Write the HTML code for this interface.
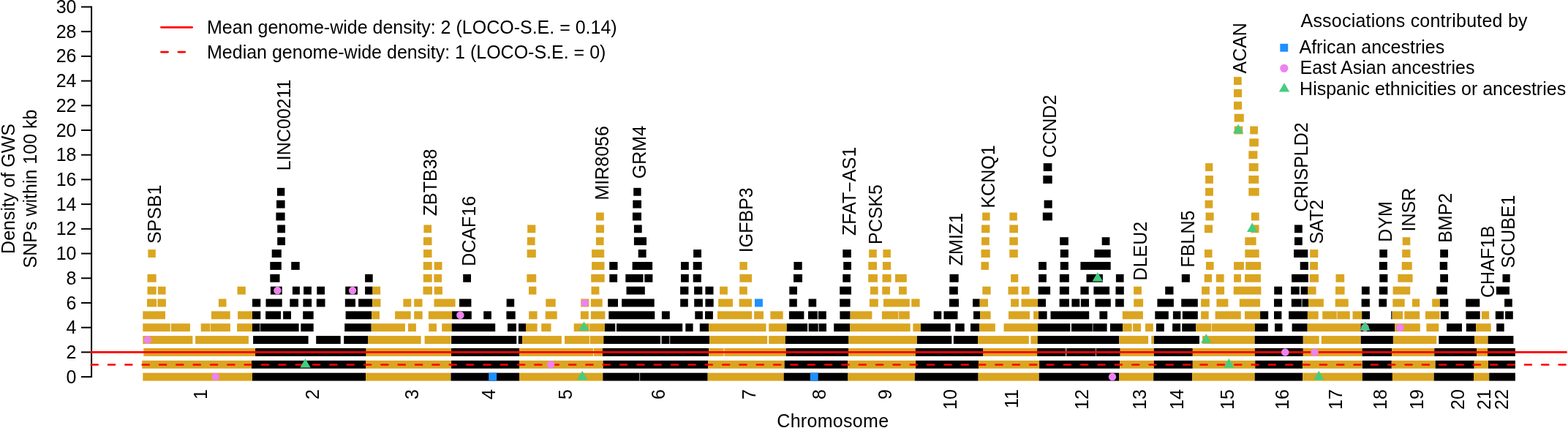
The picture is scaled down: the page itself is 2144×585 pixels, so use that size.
<!DOCTYPE html><html><head><meta charset="utf-8"><style>html,body{margin:0;padding:0;background:#fff;}svg{display:block;}text{font-family:"Liberation Sans", Arial, Helvetica, sans-serif;fill:#000;}</style></head><body>
<svg width="2144" height="585" viewBox="0 0 2144 585">
<rect width="2144" height="585" fill="#fff"/>
<rect x="195.3" y="509.65" width="149.7" height="10.90" fill="#DAA520"/>
<rect x="345.0" y="509.65" width="155.0" height="10.90" fill="#000000"/>
<rect x="500.1" y="509.65" width="116.4" height="10.90" fill="#DAA520"/>
<rect x="616.5" y="509.65" width="93.5" height="10.90" fill="#000000"/>
<rect x="710.0" y="509.65" width="114.3" height="10.90" fill="#DAA520"/>
<rect x="824.3" y="509.65" width="143.4" height="10.90" fill="#000000"/>
<rect x="967.7" y="509.65" width="104.0" height="10.90" fill="#DAA520"/>
<rect x="1071.7" y="509.65" width="87.8" height="10.90" fill="#000000"/>
<rect x="1159.5" y="509.65" width="91.3" height="10.90" fill="#DAA520"/>
<rect x="1250.8" y="509.65" width="86.8" height="10.90" fill="#000000"/>
<rect x="1337.6" y="509.65" width="83.1" height="10.90" fill="#DAA520"/>
<rect x="1420.7" y="509.65" width="109.3" height="10.90" fill="#000000"/>
<rect x="1530.0" y="509.65" width="47.2" height="10.90" fill="#DAA520"/>
<rect x="1577.2" y="509.65" width="53.0" height="10.90" fill="#000000"/>
<rect x="1630.2" y="509.65" width="85.5" height="10.90" fill="#DAA520"/>
<rect x="1715.7" y="509.65" width="65.5" height="10.90" fill="#000000"/>
<rect x="1781.2" y="509.65" width="81.6" height="10.90" fill="#DAA520"/>
<rect x="1862.8" y="509.65" width="41.1" height="10.90" fill="#000000"/>
<rect x="1903.9" y="509.65" width="56.8" height="10.90" fill="#DAA520"/>
<rect x="1960.7" y="509.65" width="54.3" height="10.90" fill="#000000"/>
<rect x="2015.0" y="509.65" width="21.2" height="10.90" fill="#DAA520"/>
<rect x="2036.2" y="509.65" width="35.7" height="10.90" fill="#000000"/>
<rect x="194.2" y="492.80" width="149.8" height="10.90" fill="#DAA520"/>
<rect x="344.0" y="492.80" width="156.6" height="10.90" fill="#000000"/>
<rect x="500.1" y="492.80" width="117.0" height="10.90" fill="#DAA520"/>
<rect x="617.1" y="492.80" width="92.9" height="10.90" fill="#000000"/>
<rect x="710.0" y="492.80" width="114.7" height="10.90" fill="#DAA520"/>
<rect x="824.7" y="492.80" width="143.4" height="10.90" fill="#000000"/>
<rect x="968.1" y="492.80" width="104.6" height="10.90" fill="#DAA520"/>
<rect x="1072.7" y="492.80" width="86.4" height="10.90" fill="#000000"/>
<rect x="1159.1" y="492.80" width="93.0" height="10.90" fill="#DAA520"/>
<rect x="1252.1" y="492.80" width="85.9" height="10.90" fill="#000000"/>
<rect x="1338.0" y="492.80" width="83.1" height="10.90" fill="#DAA520"/>
<rect x="1421.1" y="492.80" width="110.0" height="10.90" fill="#000000"/>
<rect x="1531.1" y="492.80" width="46.8" height="10.90" fill="#DAA520"/>
<rect x="1577.9" y="492.80" width="52.9" height="10.90" fill="#000000"/>
<rect x="1630.8" y="492.80" width="85.5" height="10.90" fill="#DAA520"/>
<rect x="1716.3" y="492.80" width="64.9" height="10.90" fill="#000000"/>
<rect x="1781.2" y="492.80" width="81.6" height="10.90" fill="#DAA520"/>
<rect x="1862.8" y="492.80" width="40.0" height="10.90" fill="#000000"/>
<rect x="1902.8" y="492.80" width="59.9" height="10.90" fill="#DAA520"/>
<rect x="1962.7" y="492.80" width="53.0" height="10.90" fill="#000000"/>
<rect x="2015.7" y="492.80" width="19.3" height="10.90" fill="#DAA520"/>
<rect x="2035.0" y="492.80" width="36.9" height="10.90" fill="#000000"/>
<rect x="196.3" y="475.94" width="152.8" height="10.90" fill="#DAA520"/>
<rect x="349.1" y="475.94" width="151.5" height="10.90" fill="#000000"/>
<rect x="500.7" y="475.94" width="116.4" height="10.90" fill="#DAA520"/>
<rect x="617.1" y="475.94" width="92.9" height="10.90" fill="#000000"/>
<rect x="710.0" y="475.94" width="113.9" height="10.90" fill="#DAA520"/>
<rect x="823.9" y="475.94" width="145.2" height="10.90" fill="#000000"/>
<rect x="969.1" y="475.94" width="105.7" height="10.90" fill="#DAA520"/>
<rect x="1074.8" y="475.94" width="85.3" height="10.90" fill="#000000"/>
<rect x="1160.1" y="475.94" width="91.7" height="10.90" fill="#DAA520"/>
<rect x="1251.8" y="475.94" width="92.6" height="10.90" fill="#000000"/>
<rect x="1344.4" y="475.94" width="73.8" height="10.90" fill="#DAA520"/>
<rect x="1418.2" y="475.94" width="113.5" height="10.90" fill="#000000"/>
<rect x="1531.7" y="475.94" width="46.2" height="10.90" fill="#DAA520"/>
<rect x="1577.9" y="475.94" width="52.9" height="10.90" fill="#000000"/>
<rect x="1630.8" y="475.94" width="85.1" height="10.90" fill="#DAA520"/>
<rect x="1715.9" y="475.94" width="65.9" height="10.90" fill="#000000"/>
<rect x="1781.8" y="475.94" width="80.8" height="10.90" fill="#DAA520"/>
<rect x="1862.6" y="475.94" width="40.6" height="10.90" fill="#000000"/>
<rect x="1903.2" y="475.94" width="58.1" height="10.90" fill="#DAA520"/>
<rect x="1961.3" y="475.94" width="57.9" height="10.90" fill="#000000"/>
<rect x="2019.2" y="475.94" width="14.9" height="10.90" fill="#DAA520"/>
<rect x="2034.1" y="475.94" width="37.8" height="10.90" fill="#000000"/>
<rect x="195.3" y="459.09" width="68.1" height="10.90" fill="#DAA520"/>
<rect x="267.1" y="459.09" width="72.8" height="10.90" fill="#DAA520"/>
<rect x="346.1" y="459.09" width="75.5" height="10.90" fill="#000000"/>
<rect x="432.2" y="459.09" width="33.5" height="10.90" fill="#000000"/>
<rect x="470.2" y="459.09" width="33.2" height="10.90" fill="#000000"/>
<rect x="503.4" y="459.09" width="72.2" height="10.90" fill="#DAA520"/>
<rect x="580.6" y="459.09" width="35.9" height="10.90" fill="#DAA520"/>
<rect x="617.1" y="459.09" width="89.2" height="10.90" fill="#000000"/>
<rect x="708.8" y="459.09" width="5.3" height="10.90" fill="#000000"/>
<rect x="714.1" y="459.09" width="53.8" height="10.90" fill="#DAA520"/>
<rect x="772.0" y="459.09" width="53.3" height="10.90" fill="#DAA520"/>
<rect x="825.3" y="459.09" width="77.8" height="10.90" fill="#000000"/>
<rect x="904.5" y="459.09" width="65.7" height="10.90" fill="#000000"/>
<rect x="970.2" y="459.09" width="79.0" height="10.90" fill="#DAA520"/>
<rect x="1051.2" y="459.09" width="22.6" height="10.90" fill="#DAA520"/>
<rect x="1073.8" y="459.09" width="86.7" height="10.90" fill="#000000"/>
<rect x="1160.5" y="459.09" width="93.4" height="10.90" fill="#DAA520"/>
<rect x="1253.9" y="459.09" width="47.4" height="10.90" fill="#000000"/>
<rect x="1303.8" y="459.09" width="33.2" height="10.90" fill="#000000"/>
<rect x="1337.0" y="459.09" width="69.8" height="10.90" fill="#DAA520"/>
<rect x="1409.4" y="459.09" width="9.3" height="10.90" fill="#DAA520"/>
<rect x="1418.7" y="459.09" width="111.6" height="10.90" fill="#000000"/>
<rect x="1530.3" y="459.09" width="39.8" height="10.90" fill="#DAA520"/>
<rect x="1574.2" y="459.09" width="3.7" height="10.90" fill="#DAA520"/>
<rect x="1577.9" y="459.09" width="62.1" height="10.90" fill="#000000"/>
<rect x="1644.1" y="459.09" width="71.6" height="10.90" fill="#DAA520"/>
<rect x="1715.7" y="459.09" width="66.1" height="10.90" fill="#000000"/>
<rect x="1781.8" y="459.09" width="21.9" height="10.90" fill="#DAA520"/>
<rect x="1806.8" y="459.09" width="54.0" height="10.90" fill="#DAA520"/>
<rect x="1860.8" y="459.09" width="44.1" height="10.90" fill="#000000"/>
<rect x="1904.9" y="459.09" width="59.3" height="10.90" fill="#DAA520"/>
<rect x="1967.3" y="459.09" width="48.8" height="10.90" fill="#000000"/>
<rect x="2016.1" y="459.09" width="18.5" height="10.90" fill="#DAA520"/>
<rect x="2034.6" y="459.09" width="34.8" height="10.90" fill="#000000"/>
<rect x="195.3" y="442.23" width="64.6" height="10.90" fill="#DAA520"/>
<rect x="274.7" y="442.23" width="40.2" height="10.90" fill="#DAA520"/>
<rect x="324.1" y="442.23" width="20.9" height="10.90" fill="#DAA520"/>
<rect x="345.0" y="442.23" width="63.6" height="10.90" fill="#000000"/>
<rect x="411.3" y="442.23" width="17.4" height="10.90" fill="#000000"/>
<rect x="471.2" y="442.23" width="36.5" height="10.90" fill="#000000"/>
<rect x="507.7" y="442.23" width="46.2" height="10.90" fill="#DAA520"/>
<rect x="558.0" y="442.23" width="10.9" height="10.90" fill="#DAA520"/>
<rect x="586.3" y="442.23" width="10.7" height="10.90" fill="#DAA520"/>
<rect x="604.2" y="442.23" width="13.5" height="10.90" fill="#DAA520"/>
<rect x="617.7" y="442.23" width="59.5" height="10.90" fill="#000000"/>
<rect x="694.0" y="442.23" width="11.9" height="10.90" fill="#000000"/>
<rect x="709.0" y="442.23" width="10.0" height="10.90" fill="#000000"/>
<rect x="719.0" y="442.23" width="15.6" height="10.90" fill="#DAA520"/>
<rect x="740.2" y="442.23" width="13.3" height="10.90" fill="#DAA520"/>
<rect x="784.7" y="442.23" width="42.3" height="10.90" fill="#DAA520"/>
<rect x="827.0" y="442.23" width="14.3" height="10.90" fill="#000000"/>
<rect x="843.0" y="442.23" width="90.2" height="10.90" fill="#000000"/>
<rect x="937.3" y="442.23" width="10.3" height="10.90" fill="#000000"/>
<rect x="956.8" y="442.23" width="12.3" height="10.90" fill="#000000"/>
<rect x="969.1" y="442.23" width="78.4" height="10.90" fill="#DAA520"/>
<rect x="1051.2" y="442.23" width="24.6" height="10.90" fill="#DAA520"/>
<rect x="1075.8" y="442.23" width="28.3" height="10.90" fill="#000000"/>
<rect x="1105.6" y="442.23" width="24.4" height="10.90" fill="#000000"/>
<rect x="1140.2" y="442.23" width="22.0" height="10.90" fill="#000000"/>
<rect x="1162.2" y="442.23" width="82.5" height="10.90" fill="#DAA520"/>
<rect x="1248.4" y="442.23" width="10.6" height="10.90" fill="#DAA520"/>
<rect x="1259.0" y="442.23" width="40.7" height="10.90" fill="#000000"/>
<rect x="1306.2" y="442.23" width="12.5" height="10.90" fill="#000000"/>
<rect x="1327.0" y="442.23" width="12.0" height="10.90" fill="#000000"/>
<rect x="1339.0" y="442.23" width="21.8" height="10.90" fill="#DAA520"/>
<rect x="1372.5" y="442.23" width="46.6" height="10.90" fill="#DAA520"/>
<rect x="1419.1" y="442.23" width="44.3" height="10.90" fill="#000000"/>
<rect x="1465.0" y="442.23" width="48.6" height="10.90" fill="#000000"/>
<rect x="1517.9" y="442.23" width="17.3" height="10.90" fill="#000000"/>
<rect x="1535.2" y="442.23" width="12.5" height="10.90" fill="#DAA520"/>
<rect x="1549.1" y="442.23" width="10.9" height="10.90" fill="#DAA520"/>
<rect x="1566.0" y="442.23" width="10.8" height="10.90" fill="#DAA520"/>
<rect x="1580.9" y="442.23" width="10.9" height="10.90" fill="#000000"/>
<rect x="1603.1" y="442.23" width="11.1" height="10.90" fill="#000000"/>
<rect x="1616.2" y="442.23" width="19.1" height="10.90" fill="#000000"/>
<rect x="1635.3" y="442.23" width="80.6" height="10.90" fill="#DAA520"/>
<rect x="1715.9" y="442.23" width="17.9" height="10.90" fill="#000000"/>
<rect x="1743.0" y="442.23" width="10.5" height="10.90" fill="#000000"/>
<rect x="1766.6" y="442.23" width="21.1" height="10.90" fill="#000000"/>
<rect x="1787.7" y="442.23" width="72.9" height="10.90" fill="#DAA520"/>
<rect x="1860.6" y="442.23" width="46.7" height="10.90" fill="#000000"/>
<rect x="1907.3" y="442.23" width="34.5" height="10.90" fill="#DAA520"/>
<rect x="1950.4" y="442.23" width="16.9" height="10.90" fill="#DAA520"/>
<rect x="1978.1" y="442.23" width="20.9" height="10.90" fill="#000000"/>
<rect x="2004.8" y="442.23" width="13.3" height="10.90" fill="#000000"/>
<rect x="2018.1" y="442.23" width="20.6" height="10.90" fill="#DAA520"/>
<rect x="2046.2" y="442.23" width="10.5" height="10.90" fill="#000000"/>
<rect x="195.3" y="425.38" width="30.7" height="10.90" fill="#DAA520"/>
<rect x="289.0" y="425.38" width="25.7" height="10.90" fill="#DAA520"/>
<rect x="325.1" y="425.38" width="19.9" height="10.90" fill="#DAA520"/>
<rect x="345.0" y="425.38" width="11.3" height="10.90" fill="#000000"/>
<rect x="363.1" y="425.38" width="20.9" height="10.90" fill="#000000"/>
<rect x="387.1" y="425.38" width="10.9" height="10.90" fill="#000000"/>
<rect x="414.2" y="425.38" width="14.5" height="10.90" fill="#000000"/>
<rect x="472.6" y="425.38" width="35.5" height="10.90" fill="#000000"/>
<rect x="508.1" y="425.38" width="10.9" height="10.90" fill="#DAA520"/>
<rect x="540.1" y="425.38" width="21.6" height="10.90" fill="#DAA520"/>
<rect x="566.2" y="425.38" width="11.5" height="10.90" fill="#DAA520"/>
<rect x="585.9" y="425.38" width="32.2" height="10.90" fill="#DAA520"/>
<rect x="618.1" y="425.38" width="26.7" height="10.90" fill="#000000"/>
<rect x="661.2" y="425.38" width="10.7" height="10.90" fill="#000000"/>
<rect x="692.4" y="425.38" width="12.3" height="10.90" fill="#000000"/>
<rect x="723.2" y="425.38" width="11.4" height="10.90" fill="#DAA520"/>
<rect x="745.7" y="425.38" width="16.0" height="10.90" fill="#DAA520"/>
<rect x="793.9" y="425.38" width="10.9" height="10.90" fill="#DAA520"/>
<rect x="807.9" y="425.38" width="19.5" height="10.90" fill="#DAA520"/>
<rect x="832.3" y="425.38" width="63.0" height="10.90" fill="#000000"/>
<rect x="904.9" y="425.38" width="10.9" height="10.90" fill="#000000"/>
<rect x="950.3" y="425.38" width="10.6" height="10.90" fill="#000000"/>
<rect x="964.0" y="425.38" width="10.9" height="10.90" fill="#000000"/>
<rect x="981.0" y="425.38" width="47.2" height="10.90" fill="#DAA520"/>
<rect x="1031.1" y="425.38" width="12.9" height="10.90" fill="#DAA520"/>
<rect x="1053.3" y="425.38" width="17.4" height="10.90" fill="#DAA520"/>
<rect x="1078.9" y="425.38" width="20.5" height="10.90" fill="#000000"/>
<rect x="1105.0" y="425.38" width="12.9" height="10.90" fill="#000000"/>
<rect x="1118.9" y="425.38" width="10.9" height="10.90" fill="#000000"/>
<rect x="1148.4" y="425.38" width="14.2" height="10.90" fill="#000000"/>
<rect x="1162.6" y="425.38" width="29.8" height="10.90" fill="#DAA520"/>
<rect x="1205.9" y="425.38" width="37.9" height="10.90" fill="#DAA520"/>
<rect x="1276.7" y="425.38" width="10.6" height="10.90" fill="#000000"/>
<rect x="1290.4" y="425.38" width="19.1" height="10.90" fill="#000000"/>
<rect x="1331.0" y="425.38" width="9.1" height="10.90" fill="#000000"/>
<rect x="1340.1" y="425.38" width="14.5" height="10.90" fill="#DAA520"/>
<rect x="1379.0" y="425.38" width="29.0" height="10.90" fill="#DAA520"/>
<rect x="1413.1" y="425.38" width="7.0" height="10.90" fill="#DAA520"/>
<rect x="1420.1" y="425.38" width="11.5" height="10.90" fill="#000000"/>
<rect x="1436.5" y="425.38" width="52.7" height="10.90" fill="#000000"/>
<rect x="1503.4" y="425.38" width="10.8" height="10.90" fill="#000000"/>
<rect x="1534.8" y="425.38" width="28.1" height="10.90" fill="#DAA520"/>
<rect x="1579.3" y="425.38" width="18.5" height="10.90" fill="#000000"/>
<rect x="1603.9" y="425.38" width="10.5" height="10.90" fill="#000000"/>
<rect x="1616.8" y="425.38" width="21.0" height="10.90" fill="#000000"/>
<rect x="1642.1" y="425.38" width="10.6" height="10.90" fill="#DAA520"/>
<rect x="1661.6" y="425.38" width="35.2" height="10.90" fill="#DAA520"/>
<rect x="1702.0" y="425.38" width="21.1" height="10.90" fill="#DAA520"/>
<rect x="1723.1" y="425.38" width="11.1" height="10.90" fill="#000000"/>
<rect x="1742.0" y="425.38" width="10.4" height="10.90" fill="#000000"/>
<rect x="1762.1" y="425.38" width="25.8" height="10.90" fill="#000000"/>
<rect x="1787.9" y="425.38" width="14.8" height="10.90" fill="#DAA520"/>
<rect x="1808.2" y="425.38" width="37.6" height="10.90" fill="#DAA520"/>
<rect x="1849.5" y="425.38" width="12.7" height="10.90" fill="#DAA520"/>
<rect x="1862.2" y="425.38" width="10.9" height="10.90" fill="#000000"/>
<rect x="1902.2" y="425.38" width="1.4" height="10.90" fill="#000000"/>
<rect x="1903.6" y="425.38" width="14.6" height="10.90" fill="#DAA520"/>
<rect x="1920.3" y="425.38" width="20.9" height="10.90" fill="#DAA520"/>
<rect x="1949.0" y="425.38" width="19.5" height="10.90" fill="#DAA520"/>
<rect x="1969.9" y="425.38" width="10.9" height="10.90" fill="#000000"/>
<rect x="2004.4" y="425.38" width="19.3" height="10.90" fill="#000000"/>
<rect x="2025.9" y="425.38" width="10.3" height="10.90" fill="#DAA520"/>
<rect x="2044.8" y="425.38" width="11.3" height="10.90" fill="#000000"/>
<rect x="2058.1" y="425.38" width="10.7" height="10.90" fill="#000000"/>
<rect x="201.0" y="408.52" width="13.1" height="10.90" fill="#DAA520"/>
<rect x="215.4" y="408.52" width="11.5" height="10.90" fill="#DAA520"/>
<rect x="298.9" y="408.52" width="10.6" height="10.90" fill="#DAA520"/>
<rect x="345.0" y="408.52" width="11.3" height="10.90" fill="#000000"/>
<rect x="363.5" y="408.52" width="22.2" height="10.90" fill="#000000"/>
<rect x="396.3" y="408.52" width="11.7" height="10.90" fill="#000000"/>
<rect x="414.4" y="408.52" width="11.7" height="10.90" fill="#000000"/>
<rect x="432.8" y="408.52" width="11.7" height="10.90" fill="#000000"/>
<rect x="471.8" y="408.52" width="14.2" height="10.90" fill="#000000"/>
<rect x="490.1" y="408.52" width="19.1" height="10.90" fill="#000000"/>
<rect x="509.2" y="408.52" width="11.3" height="10.90" fill="#DAA520"/>
<rect x="551.4" y="408.52" width="10.9" height="10.90" fill="#DAA520"/>
<rect x="566.2" y="408.52" width="11.3" height="10.90" fill="#DAA520"/>
<rect x="593.5" y="408.52" width="29.1" height="10.90" fill="#DAA520"/>
<rect x="628.0" y="408.52" width="16.4" height="10.90" fill="#000000"/>
<rect x="692.6" y="408.52" width="10.6" height="10.90" fill="#000000"/>
<rect x="746.3" y="408.52" width="13.4" height="10.90" fill="#DAA520"/>
<rect x="794.3" y="408.52" width="11.1" height="10.90" fill="#DAA520"/>
<rect x="807.9" y="408.52" width="15.8" height="10.90" fill="#DAA520"/>
<rect x="831.2" y="408.52" width="13.8" height="10.90" fill="#000000"/>
<rect x="850.1" y="408.52" width="44.6" height="10.90" fill="#000000"/>
<rect x="930.2" y="408.52" width="10.6" height="10.90" fill="#000000"/>
<rect x="949.2" y="408.52" width="11.7" height="10.90" fill="#000000"/>
<rect x="964.4" y="408.52" width="11.3" height="10.90" fill="#000000"/>
<rect x="982.1" y="408.52" width="19.9" height="10.90" fill="#DAA520"/>
<rect x="1010.6" y="408.52" width="17.4" height="10.90" fill="#DAA520"/>
<rect x="1079.3" y="408.52" width="10.5" height="10.90" fill="#000000"/>
<rect x="1105.6" y="408.52" width="10.6" height="10.90" fill="#000000"/>
<rect x="1148.2" y="408.52" width="14.4" height="10.90" fill="#000000"/>
<rect x="1188.9" y="408.52" width="11.9" height="10.90" fill="#DAA520"/>
<rect x="1208.0" y="408.52" width="35.8" height="10.90" fill="#DAA520"/>
<rect x="1246.3" y="408.52" width="11.3" height="10.90" fill="#DAA520"/>
<rect x="1298.0" y="408.52" width="13.0" height="10.90" fill="#000000"/>
<rect x="1330.0" y="408.52" width="9.7" height="10.90" fill="#000000"/>
<rect x="1339.7" y="408.52" width="11.3" height="10.90" fill="#DAA520"/>
<rect x="1382.1" y="408.52" width="10.9" height="10.90" fill="#DAA520"/>
<rect x="1396.5" y="408.52" width="22.6" height="10.90" fill="#DAA520"/>
<rect x="1419.1" y="408.52" width="10.9" height="10.90" fill="#000000"/>
<rect x="1448.6" y="408.52" width="13.3" height="10.90" fill="#000000"/>
<rect x="1465.4" y="408.52" width="10.9" height="10.90" fill="#000000"/>
<rect x="1477.9" y="408.52" width="11.1" height="10.90" fill="#000000"/>
<rect x="1497.4" y="408.52" width="21.4" height="10.90" fill="#000000"/>
<rect x="1525.1" y="408.52" width="11.7" height="10.90" fill="#000000"/>
<rect x="1550.2" y="408.52" width="12.9" height="10.90" fill="#DAA520"/>
<rect x="1582.4" y="408.52" width="22.5" height="10.90" fill="#000000"/>
<rect x="1615.2" y="408.52" width="22.6" height="10.90" fill="#000000"/>
<rect x="1642.1" y="408.52" width="11.7" height="10.90" fill="#DAA520"/>
<rect x="1663.4" y="408.52" width="16.0" height="10.90" fill="#DAA520"/>
<rect x="1694.8" y="408.52" width="28.3" height="10.90" fill="#DAA520"/>
<rect x="1742.0" y="408.52" width="11.1" height="10.90" fill="#000000"/>
<rect x="1765.8" y="408.52" width="23.2" height="10.90" fill="#000000"/>
<rect x="1789.0" y="408.52" width="20.9" height="10.90" fill="#DAA520"/>
<rect x="1825.7" y="408.52" width="18.0" height="10.90" fill="#DAA520"/>
<rect x="1861.6" y="408.52" width="11.3" height="10.90" fill="#000000"/>
<rect x="1885.4" y="408.52" width="10.7" height="10.90" fill="#000000"/>
<rect x="1904.3" y="408.52" width="16.4" height="10.90" fill="#DAA520"/>
<rect x="1931.0" y="408.52" width="10.2" height="10.90" fill="#DAA520"/>
<rect x="1958.2" y="408.52" width="10.7" height="10.90" fill="#DAA520"/>
<rect x="1968.9" y="408.52" width="11.3" height="10.90" fill="#000000"/>
<rect x="2004.2" y="408.52" width="19.1" height="10.90" fill="#000000"/>
<rect x="2057.1" y="408.52" width="10.7" height="10.90" fill="#000000"/>
<rect x="201.5" y="391.67" width="12.2" height="10.90" fill="#DAA520"/>
<rect x="215.9" y="391.67" width="10.7" height="10.90" fill="#DAA520"/>
<rect x="324.5" y="391.67" width="11.3" height="10.90" fill="#DAA520"/>
<rect x="369.9" y="391.67" width="15.8" height="10.90" fill="#000000"/>
<rect x="399.9" y="391.67" width="10.0" height="10.90" fill="#000000"/>
<rect x="415.1" y="391.67" width="10.8" height="10.90" fill="#000000"/>
<rect x="433.3" y="391.67" width="10.7" height="10.90" fill="#000000"/>
<rect x="472.2" y="391.67" width="16.7" height="10.90" fill="#000000"/>
<rect x="499.1" y="391.67" width="10.4" height="10.90" fill="#000000"/>
<rect x="509.5" y="391.67" width="10.6" height="10.90" fill="#DAA520"/>
<rect x="578.5" y="391.67" width="12.5" height="10.90" fill="#DAA520"/>
<rect x="593.7" y="391.67" width="11.2" height="10.90" fill="#DAA520"/>
<rect x="723.0" y="391.67" width="10.4" height="10.90" fill="#DAA520"/>
<rect x="808.5" y="391.67" width="10.9" height="10.90" fill="#DAA520"/>
<rect x="856.5" y="391.67" width="25.3" height="10.90" fill="#000000"/>
<rect x="930.1" y="391.67" width="11.3" height="10.90" fill="#000000"/>
<rect x="949.1" y="391.67" width="11.2" height="10.90" fill="#000000"/>
<rect x="964.4" y="391.67" width="11.1" height="10.90" fill="#000000"/>
<rect x="984.1" y="391.67" width="10.8" height="10.90" fill="#DAA520"/>
<rect x="1011.1" y="391.67" width="10.7" height="10.90" fill="#DAA520"/>
<rect x="1079.3" y="391.67" width="10.7" height="10.90" fill="#000000"/>
<rect x="1148.2" y="391.67" width="15.8" height="10.90" fill="#000000"/>
<rect x="1190.0" y="391.67" width="10.6" height="10.90" fill="#DAA520"/>
<rect x="1206.2" y="391.67" width="10.8" height="10.90" fill="#DAA520"/>
<rect x="1229.0" y="391.67" width="10.8" height="10.90" fill="#DAA520"/>
<rect x="1298.1" y="391.67" width="11.7" height="10.90" fill="#000000"/>
<rect x="1343.3" y="391.67" width="11.3" height="10.90" fill="#DAA520"/>
<rect x="1378.5" y="391.67" width="13.8" height="10.90" fill="#DAA520"/>
<rect x="1396.8" y="391.67" width="10.8" height="10.90" fill="#DAA520"/>
<rect x="1419.6" y="391.67" width="16.5" height="10.90" fill="#000000"/>
<rect x="1448.9" y="391.67" width="12.9" height="10.90" fill="#000000"/>
<rect x="1477.4" y="391.67" width="11.3" height="10.90" fill="#000000"/>
<rect x="1495.4" y="391.67" width="21.7" height="10.90" fill="#000000"/>
<rect x="1525.5" y="391.67" width="11.3" height="10.90" fill="#000000"/>
<rect x="1550.1" y="391.67" width="10.8" height="10.90" fill="#DAA520"/>
<rect x="1593.2" y="391.67" width="11.3" height="10.90" fill="#000000"/>
<rect x="1643.1" y="391.67" width="10.8" height="10.90" fill="#DAA520"/>
<rect x="1662.8" y="391.67" width="11.3" height="10.90" fill="#DAA520"/>
<rect x="1686.7" y="391.67" width="37.7" height="10.90" fill="#DAA520"/>
<rect x="1742.2" y="391.67" width="10.9" height="10.90" fill="#000000"/>
<rect x="1765.2" y="391.67" width="11.6" height="10.90" fill="#000000"/>
<rect x="1778.6" y="391.67" width="9.9" height="10.90" fill="#000000"/>
<rect x="1788.5" y="391.67" width="11.1" height="10.90" fill="#DAA520"/>
<rect x="1826.0" y="391.67" width="12.6" height="10.90" fill="#DAA520"/>
<rect x="1861.9" y="391.67" width="10.8" height="10.90" fill="#000000"/>
<rect x="1885.8" y="391.67" width="11.6" height="10.90" fill="#000000"/>
<rect x="1904.6" y="391.67" width="23.7" height="10.90" fill="#DAA520"/>
<rect x="1964.2" y="391.67" width="14.6" height="10.90" fill="#000000"/>
<rect x="2045.9" y="391.67" width="18.1" height="10.90" fill="#000000"/>
<rect x="201.5" y="374.81" width="12.2" height="10.90" fill="#DAA520"/>
<rect x="369.3" y="374.81" width="13.2" height="10.90" fill="#000000"/>
<rect x="499.1" y="374.81" width="10.6" height="10.90" fill="#000000"/>
<rect x="578.8" y="374.81" width="11.9" height="10.90" fill="#DAA520"/>
<rect x="593.4" y="374.81" width="10.6" height="10.90" fill="#DAA520"/>
<rect x="633.2" y="374.81" width="10.8" height="10.90" fill="#000000"/>
<rect x="720.3" y="374.81" width="12.9" height="10.90" fill="#DAA520"/>
<rect x="808.2" y="374.81" width="18.5" height="10.90" fill="#DAA520"/>
<rect x="833.3" y="374.81" width="10.8" height="10.90" fill="#000000"/>
<rect x="855.3" y="374.81" width="24.2" height="10.90" fill="#000000"/>
<rect x="881.3" y="374.81" width="11.1" height="10.90" fill="#000000"/>
<rect x="931.0" y="374.81" width="10.8" height="10.90" fill="#000000"/>
<rect x="947.7" y="374.81" width="11.1" height="10.90" fill="#000000"/>
<rect x="1011.4" y="374.81" width="16.7" height="10.90" fill="#DAA520"/>
<rect x="1085.0" y="374.81" width="12.0" height="10.90" fill="#000000"/>
<rect x="1152.3" y="374.81" width="10.6" height="10.90" fill="#000000"/>
<rect x="1187.2" y="374.81" width="12.7" height="10.90" fill="#DAA520"/>
<rect x="1206.5" y="374.81" width="12.1" height="10.90" fill="#DAA520"/>
<rect x="1224.0" y="374.81" width="15.8" height="10.90" fill="#DAA520"/>
<rect x="1298.5" y="374.81" width="12.2" height="10.90" fill="#000000"/>
<rect x="1382.1" y="374.81" width="10.2" height="10.90" fill="#DAA520"/>
<rect x="1420.1" y="374.81" width="10.8" height="10.90" fill="#000000"/>
<rect x="1448.9" y="374.81" width="12.9" height="10.90" fill="#000000"/>
<rect x="1485.5" y="374.81" width="22.4" height="10.90" fill="#000000"/>
<rect x="1525.9" y="374.81" width="10.7" height="10.90" fill="#000000"/>
<rect x="1615.8" y="374.81" width="11.1" height="10.90" fill="#000000"/>
<rect x="1646.7" y="374.81" width="10.4" height="10.90" fill="#DAA520"/>
<rect x="1662.8" y="374.81" width="10.8" height="10.90" fill="#DAA520"/>
<rect x="1687.1" y="374.81" width="9.9" height="10.90" fill="#DAA520"/>
<rect x="1702.0" y="374.81" width="21.9" height="10.90" fill="#DAA520"/>
<rect x="1766.1" y="374.81" width="22.8" height="10.90" fill="#000000"/>
<rect x="1790.6" y="374.81" width="12.3" height="10.90" fill="#DAA520"/>
<rect x="1826.5" y="374.81" width="11.7" height="10.90" fill="#DAA520"/>
<rect x="1886.3" y="374.81" width="11.1" height="10.90" fill="#000000"/>
<rect x="1911.3" y="374.81" width="20.3" height="10.90" fill="#DAA520"/>
<rect x="1969.2" y="374.81" width="10.8" height="10.90" fill="#000000"/>
<rect x="2054.5" y="374.81" width="10.2" height="10.90" fill="#000000"/>
<rect x="369.3" y="357.96" width="15.5" height="10.90" fill="#000000"/>
<rect x="398.2" y="357.96" width="11.5" height="10.90" fill="#000000"/>
<rect x="578.8" y="357.96" width="11.9" height="10.90" fill="#DAA520"/>
<rect x="593.7" y="357.96" width="10.8" height="10.90" fill="#DAA520"/>
<rect x="809.1" y="357.96" width="17.4" height="10.90" fill="#DAA520"/>
<rect x="833.2" y="357.96" width="11.3" height="10.90" fill="#000000"/>
<rect x="864.6" y="357.96" width="27.5" height="10.90" fill="#000000"/>
<rect x="931.0" y="357.96" width="10.8" height="10.90" fill="#000000"/>
<rect x="947.7" y="357.96" width="12.0" height="10.90" fill="#000000"/>
<rect x="1011.4" y="357.96" width="10.4" height="10.90" fill="#DAA520"/>
<rect x="1085.4" y="357.96" width="11.3" height="10.90" fill="#000000"/>
<rect x="1153.2" y="357.96" width="10.8" height="10.90" fill="#000000"/>
<rect x="1187.3" y="357.96" width="11.7" height="10.90" fill="#DAA520"/>
<rect x="1206.9" y="357.96" width="11.3" height="10.90" fill="#DAA520"/>
<rect x="1341.5" y="357.96" width="10.4" height="10.90" fill="#DAA520"/>
<rect x="1420.1" y="357.96" width="10.8" height="10.90" fill="#000000"/>
<rect x="1449.8" y="357.96" width="11.1" height="10.90" fill="#000000"/>
<rect x="1477.4" y="357.96" width="41.3" height="10.90" fill="#000000"/>
<rect x="1649.0" y="357.96" width="10.6" height="10.90" fill="#DAA520"/>
<rect x="1687.1" y="357.96" width="13.8" height="10.90" fill="#DAA520"/>
<rect x="1703.2" y="357.96" width="21.0" height="10.90" fill="#DAA520"/>
<rect x="1777.7" y="357.96" width="11.2" height="10.90" fill="#000000"/>
<rect x="1791.2" y="357.96" width="10.8" height="10.90" fill="#DAA520"/>
<rect x="1885.8" y="357.96" width="11.1" height="10.90" fill="#000000"/>
<rect x="1916.7" y="357.96" width="14.0" height="10.90" fill="#DAA520"/>
<rect x="1968.7" y="357.96" width="10.4" height="10.90" fill="#000000"/>
<rect x="202.4" y="341.10" width="10.4" height="10.90" fill="#DAA520"/>
<rect x="371.7" y="341.10" width="13.1" height="10.90" fill="#000000"/>
<rect x="579.0" y="341.10" width="11.5" height="10.90" fill="#DAA520"/>
<rect x="720.6" y="341.10" width="12.2" height="10.90" fill="#DAA520"/>
<rect x="809.1" y="341.10" width="17.1" height="10.90" fill="#DAA520"/>
<rect x="872.7" y="341.10" width="10.9" height="10.90" fill="#000000"/>
<rect x="948.1" y="341.10" width="10.9" height="10.90" fill="#000000"/>
<rect x="1152.3" y="341.10" width="11.5" height="10.90" fill="#000000"/>
<rect x="1188.2" y="341.10" width="10.6" height="10.90" fill="#DAA520"/>
<rect x="1207.4" y="341.10" width="10.5" height="10.90" fill="#DAA520"/>
<rect x="1341.5" y="341.10" width="12.2" height="10.90" fill="#DAA520"/>
<rect x="1380.3" y="341.10" width="11.5" height="10.90" fill="#DAA520"/>
<rect x="1449.8" y="341.10" width="11.1" height="10.90" fill="#000000"/>
<rect x="1496.3" y="341.10" width="22.4" height="10.90" fill="#000000"/>
<rect x="1647.0" y="341.10" width="10.5" height="10.90" fill="#DAA520"/>
<rect x="1702.3" y="341.10" width="19.4" height="10.90" fill="#DAA520"/>
<rect x="1769.1" y="341.10" width="19.2" height="10.90" fill="#000000"/>
<rect x="1791.2" y="341.10" width="11.1" height="10.90" fill="#DAA520"/>
<rect x="1886.3" y="341.10" width="10.6" height="10.90" fill="#000000"/>
<rect x="1917.2" y="341.10" width="11.3" height="10.90" fill="#DAA520"/>
<rect x="1969.2" y="341.10" width="10.8" height="10.90" fill="#000000"/>
<rect x="379.2" y="324.25" width="10.8" height="10.90" fill="#000000"/>
<rect x="579.0" y="324.25" width="11.5" height="10.90" fill="#DAA520"/>
<rect x="720.8" y="324.25" width="10.8" height="10.90" fill="#DAA520"/>
<rect x="814.9" y="324.25" width="10.7" height="10.90" fill="#DAA520"/>
<rect x="866.9" y="324.25" width="17.1" height="10.90" fill="#000000"/>
<rect x="1342.1" y="324.25" width="10.7" height="10.90" fill="#DAA520"/>
<rect x="1380.3" y="324.25" width="11.5" height="10.90" fill="#DAA520"/>
<rect x="1449.2" y="324.25" width="11.7" height="10.90" fill="#000000"/>
<rect x="1506.7" y="324.25" width="10.7" height="10.90" fill="#000000"/>
<rect x="1702.3" y="324.25" width="15.3" height="10.90" fill="#DAA520"/>
<rect x="1770.0" y="324.25" width="10.8" height="10.90" fill="#000000"/>
<rect x="1917.7" y="324.25" width="10.6" height="10.90" fill="#DAA520"/>
<rect x="379.2" y="307.39" width="10.8" height="10.90" fill="#000000"/>
<rect x="579.4" y="307.39" width="10.7" height="10.90" fill="#DAA520"/>
<rect x="721.2" y="307.39" width="11.1" height="10.90" fill="#DAA520"/>
<rect x="814.9" y="307.39" width="11.1" height="10.90" fill="#DAA520"/>
<rect x="866.9" y="307.39" width="10.8" height="10.90" fill="#000000"/>
<rect x="1342.1" y="307.39" width="11.3" height="10.90" fill="#DAA520"/>
<rect x="1380.3" y="307.39" width="11.7" height="10.90" fill="#DAA520"/>
<rect x="1647.0" y="307.39" width="11.0" height="10.90" fill="#DAA520"/>
<rect x="1710.4" y="307.39" width="11.1" height="10.90" fill="#DAA520"/>
<rect x="1770.0" y="307.39" width="10.8" height="10.90" fill="#000000"/>
<rect x="377.4" y="290.54" width="12.2" height="10.90" fill="#000000"/>
<rect x="815.0" y="290.54" width="10.8" height="10.90" fill="#DAA520"/>
<rect x="864.9" y="290.54" width="12.1" height="10.90" fill="#000000"/>
<rect x="1343.2" y="290.54" width="10.4" height="10.90" fill="#DAA520"/>
<rect x="1380.4" y="290.54" width="10.4" height="10.90" fill="#DAA520"/>
<rect x="1425.8" y="290.54" width="13.1" height="10.90" fill="#000000"/>
<rect x="1648.5" y="290.54" width="11.1" height="10.90" fill="#DAA520"/>
<rect x="1710.9" y="290.54" width="10.8" height="10.90" fill="#DAA520"/>
<rect x="378.0" y="273.68" width="11.6" height="10.90" fill="#000000"/>
<rect x="865.3" y="273.68" width="11.7" height="10.90" fill="#000000"/>
<rect x="1427.6" y="273.68" width="11.1" height="10.90" fill="#000000"/>
<rect x="1647.6" y="273.68" width="10.7" height="10.90" fill="#DAA520"/>
<rect x="378.9" y="256.82" width="10.4" height="10.90" fill="#000000"/>
<rect x="866.2" y="256.82" width="10.4" height="10.90" fill="#000000"/>
<rect x="1648.1" y="256.82" width="10.8" height="10.90" fill="#DAA520"/>
<rect x="1707.3" y="256.82" width="14.4" height="10.90" fill="#DAA520"/>
<rect x="1426.3" y="239.97" width="12.4" height="10.90" fill="#000000"/>
<rect x="1648.1" y="239.97" width="10.8" height="10.90" fill="#DAA520"/>
<rect x="1707.3" y="239.97" width="13.9" height="10.90" fill="#DAA520"/>
<rect x="1426.7" y="223.12" width="11.7" height="10.90" fill="#000000"/>
<rect x="1648.1" y="223.12" width="10.2" height="10.90" fill="#DAA520"/>
<rect x="1707.7" y="223.12" width="12.9" height="10.90" fill="#DAA520"/>
<rect x="1707.3" y="206.26" width="12.1" height="10.90" fill="#DAA520"/>
<rect x="1708.3" y="189.41" width="12.6" height="10.90" fill="#DAA520"/>
<rect x="1687.7" y="172.55" width="11.6" height="10.90" fill="#DAA520"/>
<rect x="1709.2" y="172.55" width="10.8" height="10.90" fill="#DAA520"/>
<rect x="1687.7" y="155.70" width="13.1" height="10.90" fill="#DAA520"/>
<rect x="1687.0" y="138.84" width="11.1" height="10.90" fill="#DAA520"/>
<rect x="1687.0" y="121.98" width="11.1" height="10.90" fill="#DAA520"/>
<rect x="1687.0" y="105.13" width="10.7" height="10.90" fill="#DAA520"/>
<rect x="232.70" y="442.23" width="1.30" height="10.90" fill="#fff" fill-opacity="0.85"/>
<rect x="287.20" y="442.23" width="0.70" height="10.90" fill="#fff" fill-opacity="0.85"/>
<rect x="355.30" y="442.23" width="0.80" height="10.90" fill="#fff" fill-opacity="0.85"/>
<rect x="805.50" y="442.23" width="0.70" height="10.90" fill="#fff" fill-opacity="0.85"/>
<rect x="1118.60" y="442.23" width="1.10" height="10.90" fill="#fff" fill-opacity="0.85"/>
<rect x="1493.70" y="442.23" width="0.80" height="10.90" fill="#fff" fill-opacity="0.85"/>
<rect x="1656.20" y="442.23" width="0.80" height="10.90" fill="#fff" fill-opacity="0.85"/>
<rect x="874.30" y="509.65" width="0.80" height="10.90" fill="#fff" fill-opacity="0.85"/>
<rect x="811.00" y="475.94" width="0.80" height="10.90" fill="#fff" fill-opacity="0.85"/>
<rect x="989.60" y="475.94" width="0.90" height="10.90" fill="#fff" fill-opacity="0.85"/>
<rect x="1457.10" y="475.94" width="1.10" height="10.90" fill="#fff" fill-opacity="0.85"/>
<rect x="1498.20" y="475.94" width="0.80" height="10.90" fill="#fff" fill-opacity="0.85"/>
<rect x="805.90" y="459.09" width="0.90" height="10.90" fill="#fff" fill-opacity="0.85"/>
<rect x="915.30" y="459.09" width="0.90" height="10.90" fill="#fff" fill-opacity="0.85"/>
<rect x="1827.70" y="425.38" width="0.80" height="10.90" fill="#fff" fill-opacity="0.85"/>
<rect x="1228.30" y="425.38" width="0.80" height="10.90" fill="#fff" fill-opacity="0.85"/>
<rect x="1779.60" y="408.52" width="1.00" height="10.90" fill="#fff" fill-opacity="0.85"/>
<g stroke="#000" stroke-width="2" fill="none">
<path d="M125.1 516.10 V 8.45"/>
<path d="M111 515.10 H125.1"/>
<path d="M111 481.39 H125.1"/>
<path d="M111 447.68 H125.1"/>
<path d="M111 413.97 H125.1"/>
<path d="M111 380.26 H125.1"/>
<path d="M111 346.55 H125.1"/>
<path d="M111 312.84 H125.1"/>
<path d="M111 279.13 H125.1"/>
<path d="M111 245.42 H125.1"/>
<path d="M111 211.71 H125.1"/>
<path d="M111 178.00 H125.1"/>
<path d="M111 144.29 H125.1"/>
<path d="M111 110.58 H125.1"/>
<path d="M111 76.87 H125.1"/>
<path d="M111 43.16 H125.1"/>
<path d="M111 9.45 H125.1"/>
</g>
<text x="104.5" y="523.70" font-size="25" text-anchor="end">0</text>
<text x="104.5" y="489.99" font-size="25" text-anchor="end">2</text>
<text x="104.5" y="456.28" font-size="25" text-anchor="end">4</text>
<text x="104.5" y="422.57" font-size="25" text-anchor="end">6</text>
<text x="104.5" y="388.86" font-size="25" text-anchor="end">8</text>
<text x="104.5" y="355.15" font-size="25" text-anchor="end">10</text>
<text x="104.5" y="321.44" font-size="25" text-anchor="end">12</text>
<text x="104.5" y="287.73" font-size="25" text-anchor="end">14</text>
<text x="104.5" y="254.02" font-size="25" text-anchor="end">16</text>
<text x="104.5" y="220.31" font-size="25" text-anchor="end">18</text>
<text x="104.5" y="186.60" font-size="25" text-anchor="end">20</text>
<text x="104.5" y="152.89" font-size="25" text-anchor="end">22</text>
<text x="104.5" y="119.18" font-size="25" text-anchor="end">24</text>
<text x="104.5" y="85.47" font-size="25" text-anchor="end">26</text>
<text x="104.5" y="51.76" font-size="25" text-anchor="end">28</text>
<text x="104.5" y="18.05" font-size="25" text-anchor="end">30</text>
<path d="M124.7 481.45 H2141.6" stroke="#FF0000" stroke-width="2.7" stroke-linecap="round"/>
<path d="M124.7 498.5 H2140.6" stroke="#FF0000" stroke-width="2.7" stroke-dasharray="9 14.336" stroke-linecap="round"/>
<circle cx="294.8" cy="515.10" r="5.25" fill="#EE82EE"/>
<circle cx="1521.0" cy="515.10" r="5.25" fill="#EE82EE"/>
<circle cx="753.1" cy="498.25" r="5.25" fill="#EE82EE"/>
<circle cx="1757.3" cy="481.39" r="5.25" fill="#EE82EE"/>
<circle cx="1797.6" cy="481.39" r="5.25" fill="#EE82EE"/>
<circle cx="201.8" cy="464.54" r="5.25" fill="#EE82EE"/>
<circle cx="1866.5" cy="447.68" r="5.25" fill="#EE82EE"/>
<circle cx="1914.5" cy="447.68" r="5.25" fill="#EE82EE"/>
<circle cx="629.4" cy="430.83" r="5.25" fill="#EE82EE"/>
<circle cx="799.7" cy="413.97" r="5.25" fill="#EE82EE"/>
<circle cx="379.4" cy="397.12" r="5.25" fill="#EE82EE"/>
<circle cx="482.1" cy="397.12" r="5.25" fill="#EE82EE"/>
<rect x="668.2" y="509.65" width="10.9" height="10.9" fill="#1E90FF"/>
<rect x="1107.8" y="509.65" width="10.9" height="10.9" fill="#1E90FF"/>
<rect x="1032.0" y="408.52" width="10.9" height="10.9" fill="#1E90FF"/>
<path d="M796.20 506.83 L803.36 519.23 L789.04 519.23 Z" fill="#43CD80"/>
<path d="M1803.30 506.83 L1810.46 519.23 L1796.14 519.23 Z" fill="#43CD80"/>
<path d="M417.50 489.98 L424.66 502.38 L410.34 502.38 Z" fill="#43CD80"/>
<path d="M1680.40 489.98 L1687.56 502.38 L1673.24 502.38 Z" fill="#43CD80"/>
<path d="M1649.30 456.27 L1656.46 468.67 L1642.14 468.67 Z" fill="#43CD80"/>
<path d="M798.50 439.41 L805.66 451.81 L791.34 451.81 Z" fill="#43CD80"/>
<path d="M1866.60 439.41 L1873.76 451.81 L1859.44 451.81 Z" fill="#43CD80"/>
<path d="M1500.80 371.99 L1507.96 384.39 L1493.64 384.39 Z" fill="#43CD80"/>
<path d="M1712.20 304.57 L1719.36 316.97 L1705.04 316.97 Z" fill="#43CD80"/>
<path d="M1693.10 169.73 L1700.26 182.13 L1685.94 182.13 Z" fill="#43CD80"/>
<text transform="translate(220.0 333.1) rotate(-90)" font-size="25">SPSB1</text>
<text transform="translate(397.0 233.2) rotate(-90)" font-size="25">LINC00211</text>
<text transform="translate(597.0 295.2) rotate(-90)" font-size="25">ZBTB38</text>
<text transform="translate(650.3 363.8) rotate(-90)" font-size="25">DCAF16</text>
<text transform="translate(832.4 273.6) rotate(-90)" font-size="25">MIR8056</text>
<text transform="translate(883.2 244.2) rotate(-90)" font-size="25">GRM4</text>
<text transform="translate(1028.5 345.2) rotate(-90)" font-size="25">IGFBP3</text>
<text transform="translate(1170.0 322.0) rotate(-90)" font-size="25">ZFAT−AS1</text>
<text transform="translate(1205.9 334.0) rotate(-90)" font-size="25">PCSK5</text>
<text transform="translate(1315.5 363.2) rotate(-90)" font-size="25">ZMIZ1</text>
<text transform="translate(1360.3 284.6) rotate(-90)" font-size="25">KCNQ1</text>
<text transform="translate(1443.7 215.8) rotate(-90)" font-size="25">CCND2</text>
<text transform="translate(1567.7 383.4) rotate(-90)" font-size="25">DLEU2</text>
<text transform="translate(1633.2 365.4) rotate(-90)" font-size="25">FBLN5</text>
<text transform="translate(1704.4 100.6) rotate(-90)" font-size="25">ACAN</text>
<text transform="translate(1787.6 289.6) rotate(-90)" font-size="25">CRISPLD2</text>
<text transform="translate(1808.6 333.6) rotate(-90)" font-size="25">SAT2</text>
<text transform="translate(1902.8 330.7) rotate(-90)" font-size="25">DYM</text>
<text transform="translate(1935.1 316.5) rotate(-90)" font-size="25">INSR</text>
<text transform="translate(1985.4 331.8) rotate(-90)" font-size="25">BMP2</text>
<text transform="translate(2043.4 407.0) rotate(-90)" font-size="25">CHAF1B</text>
<text transform="translate(2070.7 366.6) rotate(-90)" font-size="25">SCUBE1</text>
<text transform="translate(282.6 532.2) rotate(-90)" font-size="25" text-anchor="end">1</text>
<text transform="translate(435.6 532.2) rotate(-90)" font-size="25" text-anchor="end">2</text>
<text transform="translate(572.2 532.2) rotate(-90)" font-size="25" text-anchor="end">3</text>
<text transform="translate(676.6 532.2) rotate(-90)" font-size="25" text-anchor="end">4</text>
<text transform="translate(781.5 532.2) rotate(-90)" font-size="25" text-anchor="end">5</text>
<text transform="translate(909.3 532.2) rotate(-90)" font-size="25" text-anchor="end">6</text>
<text transform="translate(1032.9 532.2) rotate(-90)" font-size="25" text-anchor="end">7</text>
<text transform="translate(1128.6 532.2) rotate(-90)" font-size="25" text-anchor="end">8</text>
<text transform="translate(1219.3 532.2) rotate(-90)" font-size="25" text-anchor="end">9</text>
<text transform="translate(1308.3 532.2) rotate(-90)" font-size="25" text-anchor="end">10</text>
<text transform="translate(1391.5 532.2) rotate(-90)" font-size="25" text-anchor="end">11</text>
<text transform="translate(1488.4 532.2) rotate(-90)" font-size="25" text-anchor="end">12</text>
<text transform="translate(1567.4 532.2) rotate(-90)" font-size="25" text-anchor="end">13</text>
<text transform="translate(1618.1 532.2) rotate(-90)" font-size="25" text-anchor="end">14</text>
<text transform="translate(1687.4 532.2) rotate(-90)" font-size="25" text-anchor="end">15</text>
<text transform="translate(1761.6 532.2) rotate(-90)" font-size="25" text-anchor="end">16</text>
<text transform="translate(1835.4 532.2) rotate(-90)" font-size="25" text-anchor="end">17</text>
<text transform="translate(1895.8 532.2) rotate(-90)" font-size="25" text-anchor="end">18</text>
<text transform="translate(1946.1 532.2) rotate(-90)" font-size="25" text-anchor="end">19</text>
<text transform="translate(2002.0 532.2) rotate(-90)" font-size="25" text-anchor="end">20</text>
<text transform="translate(2038.1 532.2) rotate(-90)" font-size="25" text-anchor="end">21</text>
<text transform="translate(2061.9 532.2) rotate(-90)" font-size="25" text-anchor="end">22</text>
<text x="1062.3" y="583.6" font-size="25" textLength="152.8" lengthAdjust="spacing">Chromosome</text>
<text transform="translate(19.5 258) rotate(-90)" font-size="25" text-anchor="middle">Density of GWS</text>
<text transform="translate(49.5 258) rotate(-90)" font-size="25" text-anchor="middle">SNPs within 100 kb</text>
<path d="M220.45 37.3 H262.65" stroke="#FF0000" stroke-width="2.7" stroke-linecap="round"/>
<path d="M220.45 71.1 H252.75" stroke="#FF0000" stroke-width="2.7" stroke-dasharray="9.1 14.3" stroke-linecap="round"/>
<text x="283" y="46.4" font-size="25">Mean genome-wide density: 2 (LOCO-S.E. = 0.14)</text>
<text x="283" y="79.6" font-size="25">Median genome-wide density: 1 (LOCO-S.E. = 0)</text>
<text x="1778.5" y="37.3" font-size="25" textLength="310" lengthAdjust="spacing">Associations contributed by</text>
<rect x="1750.3" y="59.8" width="10.9" height="10.9" fill="#1E90FF"/>
<text x="1776.5" y="73.1" font-size="25">African ancestries</text>
<circle cx="1755.8" cy="93.3" r="5.6" fill="#EE82EE"/>
<text x="1777.5" y="101.2" font-size="25">East Asian ancestries</text>
<path d="M1756 113.2 L1763.2 125.6 L1748.8 125.6 Z" fill="#43CD80"/>
<text x="1777.1" y="129.7" font-size="25">Hispanic ethnicities or ancestries</text>
</svg></body></html>
